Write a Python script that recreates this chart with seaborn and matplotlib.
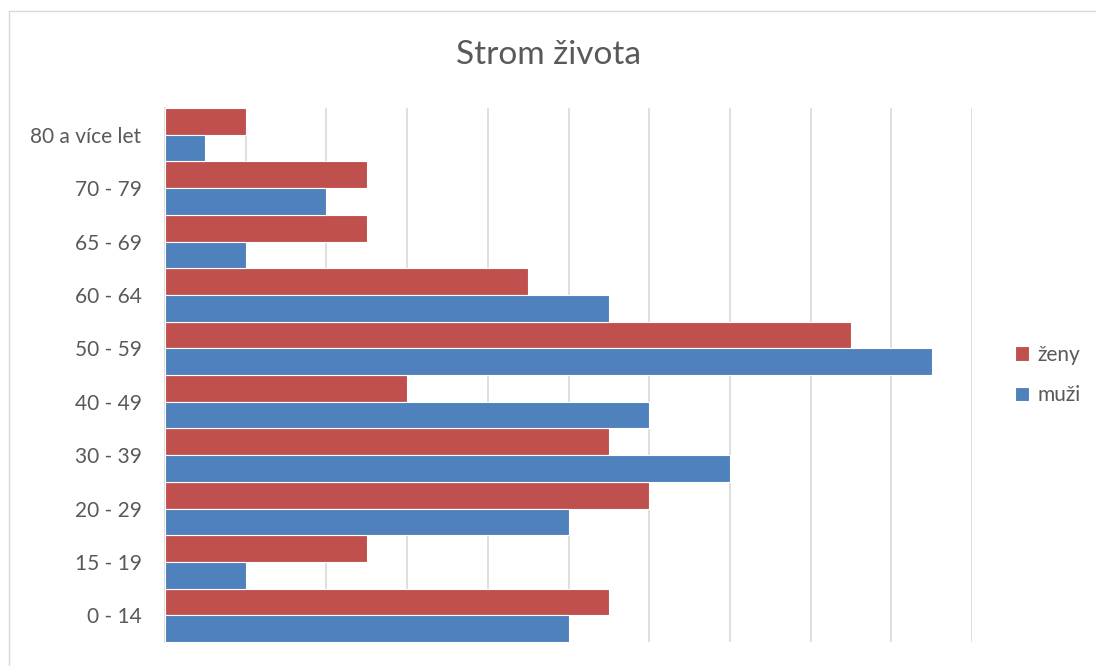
import numpy as np
import pandas as pd
import seaborn as sns
import matplotlib.pyplot as plt
from matplotlib.lines import Line2D

# data (one gridline = 2 units)
kategorie = ["80 a více let", "70 - 79", "65 - 69", "60 - 64", "50 - 59",
             "40 - 49", "30 - 39", "20 - 29", "15 - 19", "0 - 14"]
zeny = [2, 5, 5, 9, 17, 6, 11, 12, 5, 11]
muzi = [1, 4, 2, 11, 19, 12, 14, 10, 2, 10]

df = pd.DataFrame({"kategorie": kategorie * 2,
                   "hodnota": zeny + muzi,
                   "pohlavi": ["ženy"] * len(zeny) + ["muži"] * len(muzi)})

sns.set_theme(style="white")
plt.rcParams['font.family'] = ['Lato', 'DejaVu Sans']

fig = plt.figure(figsize=(10.96, 6.66), dpi=100)
ax = fig.add_axes([165 / 1096, 24 / 666, (972 - 165) / 1096, (642 - 108) / 666])

sns.barplot(data=df, y="kategorie", x="hodnota", hue="pohlavi",
            order=kategorie, hue_order=["ženy", "muži"],
            palette={"ženy": "#C0504D", "muži": "#4F81BD"},
            orient="h", width=1.0, dodge=True, saturation=1,
            edgecolor="white", linewidth=0.8, ax=ax, zorder=3)

ax.set_xlim(0, 20)
ax.set_ylim(len(kategorie) - 0.5, -0.5)
ax.set_xticks(np.arange(0, 21, 2))
ax.set_xticklabels([])
ax.xaxis.grid(True, color="#D9D9D9", linewidth=1.2, zorder=0)
ax.set_axisbelow(True)
ax.tick_params(axis="both", length=0)
ax.tick_params(axis="y", labelsize=15, labelcolor="#595959", pad=17)
ax.set_xlabel("")
ax.set_ylabel("")
for side in ["top", "right", "bottom"]:
    ax.spines[side].set_visible(False)
ax.spines["left"].set_color("#D9D9D9")
ax.spines["left"].set_linewidth(1.2)

leg = ax.legend(loc="center left", bbox_to_anchor=(1.053, 0.5), frameon=False,
                fontsize=15, handlelength=0.7, handleheight=0.7,
                handletextpad=0.4, labelspacing=1.0,
                borderaxespad=0, borderpad=0)
for t in leg.get_texts():
    t.set_color("#595959")

fig.text(0.5, 1 - 55 / 666, "Strom života", ha="center", va="center",
         fontsize=24, color="#595959")

# outer chart frame (only top and left edges visible in the crop)
x0 = 8.5 / 1096
y0 = 1 - 10.5 / 666
fig.add_artist(Line2D([x0, 1], [y0, y0], transform=fig.transFigure,
                      color="#D9D9D9", linewidth=1))
fig.add_artist(Line2D([x0, x0], [0, y0], transform=fig.transFigure,
                      color="#D9D9D9", linewidth=1))

plt.savefig("out.png", dpi=100)
